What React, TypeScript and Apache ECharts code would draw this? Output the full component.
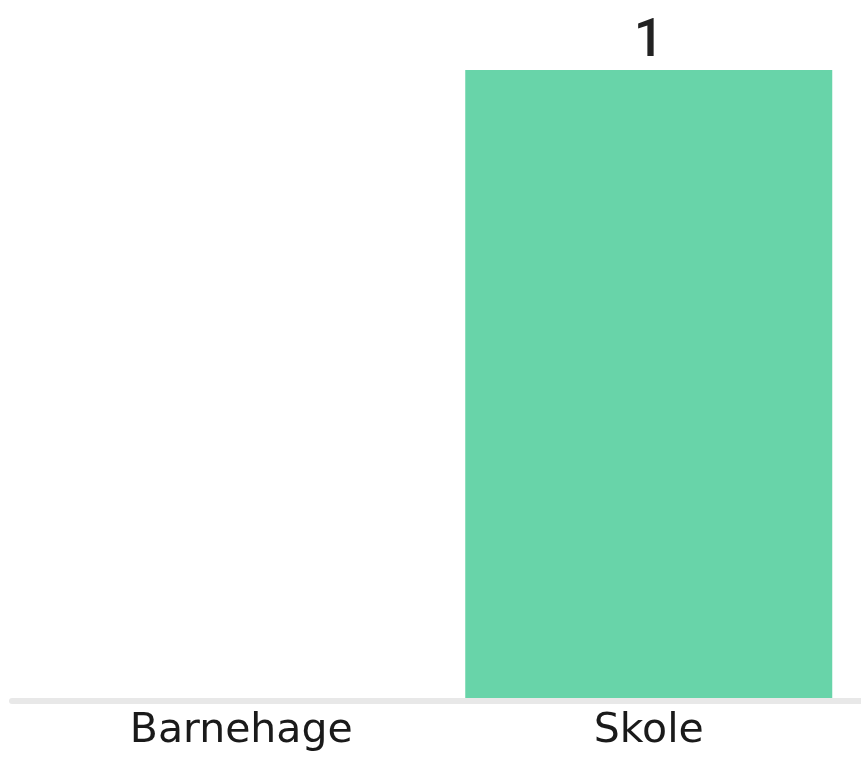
import React, { useEffect, useRef } from "react";
import * as echarts from "echarts";

const categories = ["Barnehage", "Skole"];
const values = [0, 1];

export default function App() {
  const ref = useRef<HTMLDivElement>(null);
  useEffect(() => {
    if (!ref.current) return;
    const chart = echarts.init(ref.current, null, { renderer: "svg" });
    chart.setOption({
      animation: false,
      grid: { left: 12, right: 0, top: 70, bottom: 56 },
      xAxis: {
        type: "category",
        data: categories,
        z: 5,
        axisLine: { lineStyle: { color: "#e8e8e8", width: 6 } },
        axisTick: { show: false },
        axisLabel: {
          color: "#1a1a1a",
          fontSize: 41,
          fontFamily: "DejaVu Sans",
          margin: 6,
          formatter: (v: string, i: number) => (i === 0 ? `{a|${v}}` : `{b|${v}}`),
          rich: {
            a: { fontSize: 41, fontFamily: "DejaVu Sans", color: "#1a1a1a", padding: [0, 0, 0, 34] },
            b: { fontSize: 41, fontFamily: "DejaVu Sans", color: "#1a1a1a" },
          },
        },
      },
      yAxis: {
        type: "value",
        min: 0,
        max: 1,
        show: false,
        splitLine: { show: false },
      },
      series: [
        {
          type: "bar",
          data: values,
          barWidth: 367,
          itemStyle: { color: "#68d4a9" },
          label: {
            show: true,
            position: "top",
            formatter: (p: any) => (p.value > 0 ? String(p.value) : ""),
            color: "#222222",
            fontSize: 53,
            fontWeight: 500,
            fontFamily: "Roboto",
            distance: 6,
          },
        },
      ],
    });
    return () => chart.dispose();
  }, []);
  return (
    <div
      ref={ref}
      style={{ position: "fixed", left: 0, top: 0, width: 861, height: 757 }}
    />
  );
}
